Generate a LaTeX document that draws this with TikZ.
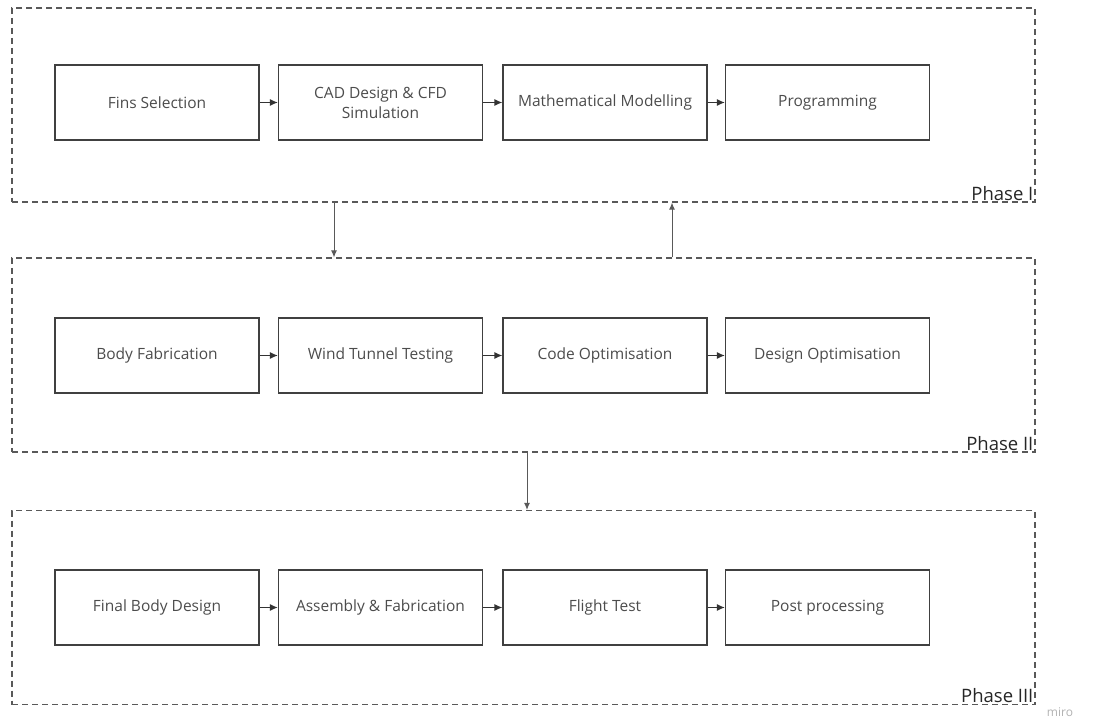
\documentclass[tikz,border=0pt]{standalone}
\usepackage{fontspec}
\setmainfont{Open Sans}
\usetikzlibrary{arrows.meta}

\tikzset{
  stage/.style={draw=black!75,line width=1.2pt,minimum width=204pt,minimum height=75pt,align=center,text=black!70,font=\fontsize{15.5}{20}\selectfont},
  phase/.style={draw=black!65,dashed,dash pattern=on 6pt off 4pt,line width=1.2pt,minimum width=1023pt,minimum height=194pt},
  link/.style={black!80,line width=1.3pt,-{Latex[length=8pt,width=7pt]}},
  jump/.style={black!65,line width=1pt,-{Latex[length=7pt,width=6pt]}}
}

\begin{document}
\begin{tikzpicture}[x=1pt,y=-1pt]
  \useasboundingbox (0,0) rectangle (1097,722);
  \node[phase] (ph1) at (523.5,105) {}; \node[phase] (ph2) at (523.5,355) {}; \node[phase] (ph3) at (523.5,607.5) {};
  \node[anchor=south east,inner sep=2pt,font=\fontsize{18.5}{20}\selectfont,text=black!85] at (ph1.south east) {Phase I};
  \node[anchor=south east,inner sep=2pt,font=\fontsize{18.5}{20}\selectfont,text=black!85] at (ph2.south east) {Phase II};
  \node[anchor=south east,inner sep=2pt,font=\fontsize{18.5}{20}\selectfont,text=black!85] at (ph3.south east) {Phase III};
  \node[stage] (a1) at (157,102.5) {Fins Selection};
  \node[stage] (a2) at (380.5,102.5) {CAD Design \& CFD\\Simulation};
  \node[stage] (a3) at (605,102.5) {Mathematical Modelling};
  \node[stage] (a4) at (827.5,102.5) {Programming};
  \node[stage] (b1) at (157,355.5) {Body Fabrication};
  \node[stage] (b2) at (380.5,355.5) {Wind Tunnel Testing};
  \node[stage] (b3) at (605,355.5) {Code Optimisation};
  \node[stage] (b4) at (827.5,355.5) {Design Optimisation};
  \node[stage] (c1) at (157,607.5) {Final Body Design};
  \node[stage] (c2) at (380.5,607.5) {Assembly \& Fabrication};
  \node[stage] (c3) at (605,607.5) {Flight Test};
  \node[stage] (c4) at (827.5,607.5) {Post processing};
  \draw[link] (a1) -- (a2); \draw[link] (a2) -- (a3); \draw[link] (a3) -- (a4);
  \draw[link] (b1) -- (b2); \draw[link] (b2) -- (b3); \draw[link] (b3) -- (b4);
  \draw[link] (c1) -- (c2); \draw[link] (c2) -- (c3); \draw[link] (c3) -- (c4);
  \draw[jump] (334,0 |- ph1.south) -- (334,0 |- ph2.north);
  \draw[jump] (672,0 |- ph2.north) -- (672,0 |- ph1.south);
  \draw[jump] (527,0 |- ph2.south) -- (527,0 |- ph3.north);
  \node[text=black!30,font=\fontsize{12}{13}\selectfont] (wm) at (1060,712) {miro};
\end{tikzpicture}
\end{document}
